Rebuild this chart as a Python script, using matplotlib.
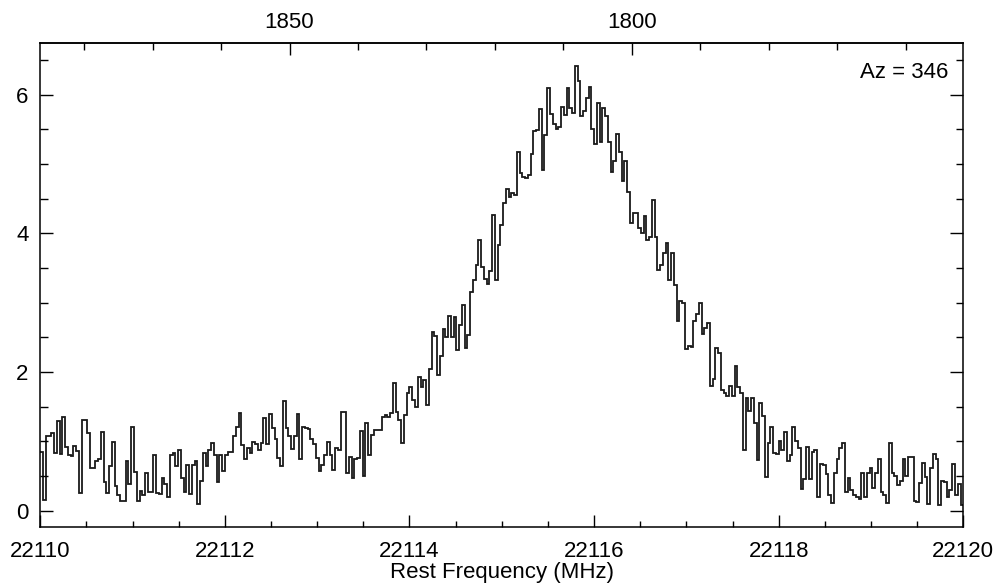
import numpy as np
import matplotlib
matplotlib.use("Agg")
import matplotlib.pyplot as plt
from matplotlib.ticker import MultipleLocator, FixedLocator, FormatStrFormatter

plt.rcParams['font.family'] = ['Liberation Sans', 'DejaVu Sans']

# Frequency coverage of the spectrum (MHz)
F_START = 22110.0
F_END = 22120.0

# Velocity scale for the top axis: km/s at F_START and km/s per MHz
V_AT_START = 1886.4
KMS_PER_MHZ = 13.48
VELOCITY_TICKS = [1850, 1800]

AZIMUTH_LABEL = "Az = 346"

# Antenna temperature per channel, low-frequency side to high-frequency side
baseline_low = [0.85, 0.15, 1.07, 1.07, 1.12, 0.83, 1.29, 0.82, 1.35, 0.92,
                0.81, 0.79, 0.93, 0.86, 0.25, 1.31, 1.31, 1.12, 0.61, 0.61,
                0.71, 0.75, 1.13, 0.42, 0.25, 0.64, 0.99, 0.35, 0.23, 0.14,
                0.14, 0.72, 0.39, 1.21, 0.56, 0.14, 0.28, 0.23, 0.55, 0.27,
                0.27, 0.80, 0.25, 0.24, 0.47, 0.39, 0.20, 0.80, 0.83, 0.64,
                0.88, 0.47, 0.27, 0.66]
baseline_mid = [0.24, 0.66, 0.72, 0.09, 0.43, 0.83, 0.64, 0.88, 0.97, 0.81,
                0.42, 0.81, 0.57, 0.80, 0.85, 0.85, 1.08, 1.21, 1.41, 0.95,
                0.75, 0.90, 0.83, 0.99, 0.96, 0.87, 0.98, 1.33, 0.96, 1.39,
                1.19, 1.04, 0.76, 0.65, 1.58, 1.19, 1.07, 0.89, 1.07, 1.39,
                0.75, 1.20, 1.19, 1.18, 1.04, 0.96, 0.76, 0.57, 0.66, 0.81,
                0.99, 0.81, 0.58, 0.90]
line_rise = [0.88, 1.43, 1.43, 0.54, 0.78, 0.47, 0.74, 0.76, 1.15, 0.50,
             1.27, 0.80, 1.09, 1.17, 1.17, 1.17, 1.35, 1.38, 1.35, 1.41,
             1.84, 1.43, 1.31, 0.98, 1.38, 1.69, 1.79, 1.60, 1.49, 1.93,
             1.79, 1.88, 1.53, 2.05, 2.58, 2.52, 1.96, 2.23, 2.62, 2.51,
             2.81, 2.51, 2.80, 2.32, 2.68, 2.97, 2.34, 2.54, 3.16, 3.33,
             3.55, 3.90, 3.52, 3.34]
line_peak = [3.27, 3.45, 4.27, 3.33, 3.83, 4.12, 4.44, 4.64, 4.53, 4.58,
             4.56, 5.17, 4.87, 4.81, 4.80, 4.84, 5.14, 5.47, 5.49, 5.80,
             4.92, 5.42, 6.09, 5.72, 5.57, 5.51, 5.54, 5.82, 5.70, 6.09,
             5.81, 5.73, 6.42, 6.20, 5.69, 5.76, 5.95, 6.11, 5.51, 5.29,
             5.88, 5.32, 5.81, 5.69, 5.32, 4.88, 5.05, 5.43, 5.18, 4.76,
             5.04, 4.59, 4.15, 4.29]
line_fall = [4.29, 4.07, 4.01, 4.25, 3.91, 3.95, 4.48, 3.94, 3.47, 3.55,
             3.72, 3.86, 3.33, 3.71, 3.26, 2.74, 3.03, 2.99, 2.33, 2.37,
             2.36, 2.73, 2.84, 2.99, 2.55, 2.63, 2.71, 1.80, 1.90, 2.34,
             2.27, 1.74, 1.69, 1.65, 1.80, 1.66, 2.09, 1.79, 1.69, 0.88,
             1.62, 1.44, 1.62, 1.27, 0.73, 1.55, 1.37, 0.49, 0.97, 1.21,
             0.83, 0.82, 1.00, 0.88, 1.13, 0.71, 0.80, 1.21]
baseline_high = [1.00, 0.90, 0.31, 0.45, 0.92, 0.45, 0.85, 0.88, 0.20, 0.67,
                 0.66, 0.53, 0.23, 0.11, 0.54, 0.74, 0.90, 0.98, 0.27, 0.47,
                 0.30, 0.23, 0.19, 0.17, 0.55, 0.19, 0.55, 0.62, 0.33, 0.54,
                 0.74, 0.27, 0.23, 0.11, 0.98, 0.55, 0.50, 0.37, 0.43, 0.75,
                 0.50, 0.77, 0.78, 0.14, 0.13, 0.40, 0.69, 0.48, 0.10, 0.61,
                 0.82, 0.74, 0.08, 0.43, 0.42, 0.20, 0.30, 0.68, 0.23, 0.39,
                 0.08]

intensity = np.array(baseline_low + baseline_mid + line_rise + line_peak
                     + line_fall + baseline_high)
edges = np.linspace(F_START, F_END, len(intensity) + 1)


def freq_to_vel(f):
    return V_AT_START - KMS_PER_MHZ * (np.asarray(f) - F_START)


def vel_to_freq(v):
    return F_START + (V_AT_START - np.asarray(v)) / KMS_PER_MHZ


fig = plt.figure(figsize=(9.98, 5.87), dpi=100)
ax = fig.add_axes([0.0404, 0.1017, 0.9248, 0.8256])

ax.stairs(intensity, edges, baseline=None, color='#1a1a1a', lw=1.3)

ax.set_xlim(F_START, F_END)
ax.set_ylim(-0.24, 6.75)

ax.xaxis.set_major_locator(MultipleLocator(2))
ax.xaxis.set_minor_locator(MultipleLocator(0.5))
ax.xaxis.set_major_formatter(FormatStrFormatter('%d'))
ax.yaxis.set_major_locator(MultipleLocator(2))
ax.yaxis.set_minor_locator(MultipleLocator(0.5))
ax.yaxis.set_major_formatter(FormatStrFormatter('%d'))

for s in ax.spines.values():
    s.set_linewidth(1.1)

ax.tick_params(axis='x', which='major', direction='in', length=8.3,
               width=1.0, top=False, pad=10, labelsize=16)
ax.tick_params(axis='x', which='minor', direction='in', length=4.6,
               width=1.0, top=False)
ax.tick_params(axis='y', which='major', direction='in', length=9.3,
               width=1.0, right=True, pad=8.5, labelsize=16)
ax.tick_params(axis='y', which='minor', direction='in', length=5.4,
               width=1.0, right=True)

# Top axis: velocity corresponding to each rest frequency
sec = ax.secondary_xaxis('top', functions=(freq_to_vel, vel_to_freq))
sec.xaxis.set_major_locator(FixedLocator(VELOCITY_TICKS))
v_lo, v_hi = sorted(freq_to_vel([F_START, F_END]))
sec.xaxis.set_minor_locator(
    FixedLocator(np.arange(np.ceil(v_lo / 10) * 10, v_hi, 10)))
sec.xaxis.set_major_formatter(FormatStrFormatter('%d'))
sec.spines['top'].set_linewidth(1.1)
sec.tick_params(axis='x', which='major', direction='in', length=8.8,
                width=1.0, pad=7, labelsize=16)
sec.tick_params(axis='x', which='minor', direction='in', length=5.2,
                width=1.0)

ax.set_xlabel('Rest Frequency (MHz)', fontsize=16, labelpad=0)

ax.text(0.9837, 0.9608, AZIMUTH_LABEL, transform=ax.transAxes,
        ha='right', va='top', fontsize=16)

fig.savefig('out.png', dpi=100, facecolor='white')
